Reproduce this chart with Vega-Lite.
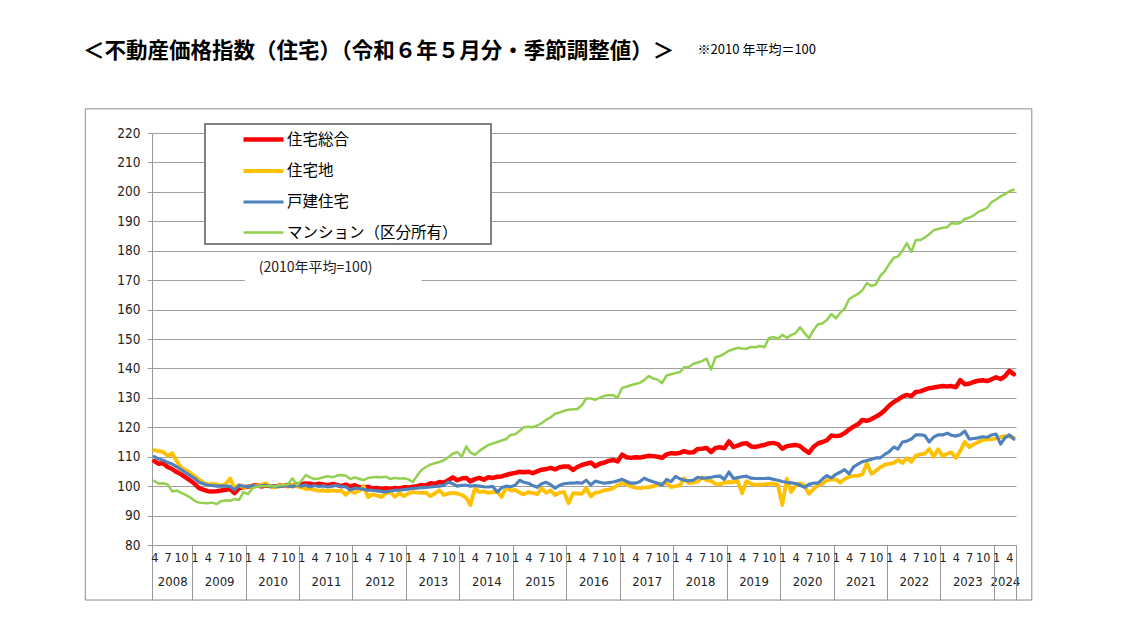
{
"$schema": "https://vega.github.io/schema/vega-lite/v6.json",
"width": 864, "height": 412,
"autosize": "none",
"padding": {"left": 152, "top": 133, "right": 121, "bottom": 90},
"background": "white",
"title": {"text": "＜不動産価格指数（住宅）（令和６年５月分・季節調整値）＞", "anchor": "start", "frame": "group", "dx": -69, "offset": -18, "fontSize": 21.5, "fontWeight": "bold", "font": "Noto Sans CJK JP", "color": "black"},
"config": {
  "view": {"stroke": null},
  "legend": {"strokeWidth": 2},
  "axis": {"labelFont": "Liberation Sans Narrow, DejaVu Sans Condensed, sans-serif", "labelColor": "#222222"},
  "axisY": {"values": [80, 90, 100, 110, 120, 130, 140, 150, 160, 170, 180, 190, 200, 210, 220], "grid": true, "gridColor": "#a0a0a0", "tickColor": "#a0a0a0", "tickSize": 5, "domainColor": "#999999", "labelPadding": 7, "labelFontSize": 13.5, "labelOverlap": false}
},
"resolve": {"scale": {"x": "shared", "y": "shared"}, "axis": {"x": "independent", "y": "shared"}},
"layer": [
  {
    "data": {"values": [{}]},
    "mark": {"type": "rect", "fill": "transparent", "stroke": "#8c8c8c", "strokeWidth": 1},
    "encoding": {
      "x": {"datum": {"year": 2006, "month": 12, "date": 16, "utc": true}, "type": "temporal",
        "axis": {"orient": "bottom", "values": [
          {"year": 2008, "month": 8, "date": 1, "utc": true},
          {"year": 2009, "month": 6, "date": 18, "utc": true},
          {"year": 2010, "month": 6, "date": 18, "utc": true},
          {"year": 2011, "month": 6, "date": 18, "utc": true},
          {"year": 2012, "month": 6, "date": 18, "utc": true},
          {"year": 2013, "month": 6, "date": 18, "utc": true},
          {"year": 2014, "month": 6, "date": 18, "utc": true},
          {"year": 2015, "month": 6, "date": 18, "utc": true},
          {"year": 2016, "month": 6, "date": 18, "utc": true},
          {"year": 2017, "month": 6, "date": 18, "utc": true},
          {"year": 2018, "month": 6, "date": 18, "utc": true},
          {"year": 2019, "month": 6, "date": 18, "utc": true},
          {"year": 2020, "month": 6, "date": 18, "utc": true},
          {"year": 2021, "month": 6, "date": 18, "utc": true},
          {"year": 2022, "month": 6, "date": 18, "utc": true},
          {"year": 2023, "month": 6, "date": 18, "utc": true},
          {"year": 2024, "month": 3, "date": 1, "utc": true}],
          "format": "%Y", "ticks": false, "domain": false, "grid": false, "labelPadding": 30, "labelFontSize": 13, "labelOverlap": false, "labelFlush": false, "title": null}},
      "x2": {"datum": {"year": 2024, "month": 9, "date": 1, "utc": true}},
      "y": {"datum": 61.3, "type": "quantitative", "title": null, "axis": {"values": [80, 90, 100, 110, 120, 130, 140, 150, 160, 170, 180, 190, 200, 210, 220], "labelOverlap": false, "title": null}},
      "y2": {"datum": 228.2}
    }
  },
  {
    "data": {"values": [{}]},
    "mark": {"type": "rect", "fill": "white"},
    "encoding": {
      "x": {"datum": {"year": 2009, "month": 12, "date": 11, "utc": true}, "type": "temporal",
        "axis": {"orient": "bottom", "values": [
          {"year": 2008, "month": 3, "date": 16, "utc": true},
          {"year": 2008, "month": 12, "date": 16, "utc": true},
          {"year": 2009, "month": 12, "date": 16, "utc": true},
          {"year": 2010, "month": 12, "date": 16, "utc": true},
          {"year": 2011, "month": 12, "date": 16, "utc": true},
          {"year": 2012, "month": 12, "date": 16, "utc": true},
          {"year": 2013, "month": 12, "date": 16, "utc": true},
          {"year": 2014, "month": 12, "date": 16, "utc": true},
          {"year": 2015, "month": 12, "date": 16, "utc": true},
          {"year": 2016, "month": 12, "date": 16, "utc": true},
          {"year": 2017, "month": 12, "date": 16, "utc": true},
          {"year": 2018, "month": 12, "date": 16, "utc": true},
          {"year": 2019, "month": 12, "date": 16, "utc": true},
          {"year": 2020, "month": 12, "date": 16, "utc": true},
          {"year": 2021, "month": 12, "date": 16, "utc": true},
          {"year": 2022, "month": 12, "date": 16, "utc": true},
          {"year": 2023, "month": 12, "date": 16, "utc": true},
          {"year": 2024, "month": 5, "date": 16, "utc": true}],
          "labels": false, "ticks": true, "tickSize": 55, "tickColor": "#999999", "domain": false, "grid": false, "title": null}},
      "x2": {"datum": {"year": 2013, "month": 4, "date": 1, "utc": true}},
      "y": {"datum": 168.3, "type": "quantitative", "title": null, "axis": {"values": [80, 90, 100, 110, 120, 130, 140, 150, 160, 170, 180, 190, 200, 210, 220], "labelOverlap": false, "title": null}},
      "y2": {"datum": 177.5}
    }
  },
  {
    "data": {"values": [{"label": "(2010年平均=100)"}]},
    "mark": {"type": "text", "align": "center", "baseline": "middle", "fontSize": 14, "font": "Noto Sans CJK JP", "color": "#222222"},
    "encoding": {
      "x": {"datum": {"year": 2011, "month": 4, "date": 8, "utc": true}, "type": "temporal", "axis": null},
      "y": {"datum": 174.1, "type": "quantitative", "title": null, "axis": {"values": [80, 90, 100, 110, 120, 130, 140, 150, 160, 170, 180, 190, 200, 210, 220], "labelOverlap": false, "title": null}},
      "text": {"field": "label"}
    }
  },
  {
    "data": {"values": [{"label": "※2010 年平均＝100"}]},
    "mark": {"type": "text", "align": "left", "baseline": "middle", "fontSize": 13, "font": "Noto Sans CJK JP", "color": "black"},
    "encoding": {
      "x": {"datum": {"year": 2018, "month": 6, "date": 1, "utc": true}, "type": "temporal", "axis": null},
      "y": {"datum": 248.2, "type": "quantitative", "title": null, "axis": {"values": [80, 90, 100, 110, 120, 130, 140, 150, 160, 170, 180, 190, 200, 210, 220], "labelOverlap": false, "title": null}},
      "text": {"field": "label"}
    }
  },
  {
    "data": {"values": [
{"d":"2008-04","a":108.5,"b":112.2,"c":110.0,"m":101.8},
{"d":"2008-05","a":107.6,"b":111.9,"c":109.2,"m":100.8},
{"d":"2008-06","a":107.8,"b":111.6,"c":108.8,"m":101.0},
{"d":"2008-07","a":106.5,"b":110.3,"c":108.0,"m":100.6},
{"d":"2008-08","a":105.8,"b":111.2,"c":107.5,"m":98.2},
{"d":"2008-09","a":104.8,"b":108.5,"c":106.6,"m":98.5},
{"d":"2008-10","a":104.0,"b":106.3,"c":105.6,"m":97.7},
{"d":"2008-11","a":103.0,"b":105.5,"c":104.6,"m":97.0},
{"d":"2008-12","a":102.0,"b":104.6,"c":103.6,"m":96.2},
{"d":"2009-01","a":100.8,"b":103.3,"c":102.6,"m":95.0},
{"d":"2009-02","a":99.3,"b":102.2,"c":101.3,"m":94.4},
{"d":"2009-03","a":98.8,"b":101.2,"c":100.8,"m":94.3},
{"d":"2009-04","a":98.3,"b":100.5,"c":100.4,"m":94.2},
{"d":"2009-05","a":98.2,"b":100.8,"c":100.2,"m":94.4},
{"d":"2009-06","a":98.3,"b":100.6,"c":100.0,"m":93.9},
{"d":"2009-07","a":98.5,"b":100.1,"c":100.1,"m":94.9},
{"d":"2009-08","a":98.8,"b":100.8,"c":100.0,"m":95.2},
{"d":"2009-09","a":99.0,"b":102.6,"c":99.9,"m":95.0},
{"d":"2009-10","a":97.6,"b":99.3,"c":98.7,"m":95.6},
{"d":"2009-11","a":99.3,"b":100.4,"c":100.3,"m":95.3},
{"d":"2009-12","a":99.6,"b":99.5,"c":100.0,"m":98.0},
{"d":"2010-01","a":99.8,"b":100.0,"c":99.8,"m":97.3},
{"d":"2010-02","a":100.1,"b":99.8,"c":100.2,"m":99.3},
{"d":"2010-03","a":100.3,"b":100.2,"c":99.9,"m":99.8},
{"d":"2010-04","a":99.9,"b":100.4,"c":100.1,"m":100.0},
{"d":"2010-05","a":100.2,"b":101.0,"c":100.4,"m":100.0},
{"d":"2010-06","a":100.0,"b":100.0,"c":99.9,"m":100.1},
{"d":"2010-07","a":99.8,"b":99.6,"c":100.1,"m":99.9},
{"d":"2010-08","a":100.2,"b":100.2,"c":99.8,"m":100.2},
{"d":"2010-09","a":100.1,"b":100.3,"c":100.2,"m":100.4},
{"d":"2010-10","a":100.4,"b":99.8,"c":100.0,"m":100.6},
{"d":"2010-11","a":100.0,"b":100.4,"c":99.9,"m":102.7},
{"d":"2010-12","a":100.6,"b":99.9,"c":100.3,"m":100.4},
{"d":"2011-01","a":100.7,"b":99.6,"c":100.0,"m":101.8},
{"d":"2011-02","a":100.9,"b":99.0,"c":100.4,"m":103.8},
{"d":"2011-03","a":100.8,"b":99.2,"c":99.7,"m":103.0},
{"d":"2011-04","a":100.5,"b":98.7,"c":100.2,"m":102.4},
{"d":"2011-05","a":100.8,"b":98.4,"c":99.9,"m":102.6},
{"d":"2011-06","a":100.6,"b":98.6,"c":100.1,"m":103.0},
{"d":"2011-07","a":100.3,"b":98.3,"c":99.7,"m":103.4},
{"d":"2011-08","a":100.7,"b":98.6,"c":100.0,"m":103.0},
{"d":"2011-09","a":100.4,"b":98.3,"c":100.3,"m":103.6},
{"d":"2011-10","a":100.0,"b":98.5,"c":99.8,"m":103.8},
{"d":"2011-11","a":100.5,"b":97.0,"c":99.8,"m":103.5},
{"d":"2011-12","a":99.9,"b":98.6,"c":98.7,"m":102.4},
{"d":"2012-01","a":100.3,"b":97.7,"c":99.3,"m":103.0},
{"d":"2012-02","a":99.7,"b":98.4,"c":99.2,"m":102.5},
{"d":"2012-03","a":99.5,"b":100.0,"c":98.9,"m":102.0},
{"d":"2012-04","a":99.8,"b":96.3,"c":98.6,"m":102.8},
{"d":"2012-05","a":99.2,"b":97.2,"c":98.6,"m":103.0},
{"d":"2012-06","a":99.4,"b":96.8,"c":98.4,"m":103.1},
{"d":"2012-07","a":99.0,"b":96.3,"c":98.2,"m":103.0},
{"d":"2012-08","a":99.3,"b":97.6,"c":98.0,"m":103.2},
{"d":"2012-09","a":99.0,"b":98.0,"c":98.4,"m":102.4},
{"d":"2012-10","a":99.4,"b":96.4,"c":98.6,"m":102.8},
{"d":"2012-11","a":99.2,"b":97.6,"c":98.6,"m":102.6},
{"d":"2012-12","a":99.6,"b":96.6,"c":98.8,"m":102.7},
{"d":"2013-01","a":99.5,"b":97.5,"c":99.0,"m":102.3},
{"d":"2013-02","a":99.8,"b":98.0,"c":99.2,"m":101.4},
{"d":"2013-03","a":100.0,"b":97.8,"c":99.3,"m":103.5},
{"d":"2013-04","a":100.4,"b":97.7,"c":99.5,"m":105.5},
{"d":"2013-05","a":100.2,"b":97.8,"c":99.6,"m":106.5},
{"d":"2013-06","a":101.0,"b":96.6,"c":99.7,"m":107.3},
{"d":"2013-07","a":100.8,"b":97.5,"c":99.9,"m":107.8},
{"d":"2013-08","a":101.4,"b":98.6,"c":100.0,"m":108.2},
{"d":"2013-09","a":101.2,"b":97.0,"c":100.3,"m":108.8},
{"d":"2013-10","a":102.0,"b":97.5,"c":101.4,"m":109.8},
{"d":"2013-11","a":103.0,"b":97.7,"c":100.8,"m":111.0},
{"d":"2013-12","a":102.0,"b":97.5,"c":100.0,"m":111.6},
{"d":"2014-01","a":102.6,"b":97.0,"c":100.3,"m":110.0},
{"d":"2014-02","a":102.8,"b":96.0,"c":100.3,"m":113.5},
{"d":"2014-03","a":101.6,"b":93.6,"c":100.0,"m":111.5},
{"d":"2014-04","a":102.4,"b":99.3,"c":100.2,"m":110.6},
{"d":"2014-05","a":102.8,"b":98.0,"c":100.0,"m":112.0},
{"d":"2014-06","a":102.2,"b":98.2,"c":99.8,"m":113.0},
{"d":"2014-07","a":103.0,"b":97.7,"c":99.7,"m":114.0},
{"d":"2014-08","a":102.8,"b":98.0,"c":99.9,"m":114.5},
{"d":"2014-09","a":103.2,"b":98.1,"c":98.0,"m":115.0},
{"d":"2014-10","a":103.3,"b":96.3,"c":99.5,"m":115.5},
{"d":"2014-11","a":103.8,"b":99.7,"c":100.0,"m":116.0},
{"d":"2014-12","a":104.2,"b":98.5,"c":99.8,"m":117.4},
{"d":"2015-01","a":104.5,"b":98.7,"c":100.3,"m":117.6},
{"d":"2015-02","a":104.9,"b":97.8,"c":102.0,"m":118.8},
{"d":"2015-03","a":104.7,"b":97.2,"c":101.3,"m":120.0},
{"d":"2015-04","a":104.9,"b":98.0,"c":101.0,"m":120.2},
{"d":"2015-05","a":104.4,"b":97.6,"c":100.2,"m":120.0},
{"d":"2015-06","a":105.0,"b":97.3,"c":99.6,"m":120.6},
{"d":"2015-07","a":105.6,"b":99.3,"c":100.8,"m":121.4},
{"d":"2015-08","a":105.8,"b":97.7,"c":101.3,"m":122.6},
{"d":"2015-09","a":106.2,"b":98.5,"c":100.5,"m":123.4},
{"d":"2015-10","a":105.7,"b":97.0,"c":99.3,"m":124.6},
{"d":"2015-11","a":106.4,"b":97.8,"c":100.3,"m":125.0},
{"d":"2015-12","a":106.7,"b":98.0,"c":100.8,"m":125.6},
{"d":"2016-01","a":106.7,"b":94.2,"c":101.0,"m":126.0},
{"d":"2016-02","a":105.5,"b":97.6,"c":101.0,"m":126.1},
{"d":"2016-03","a":106.5,"b":97.5,"c":101.2,"m":126.2},
{"d":"2016-04","a":107.2,"b":97.4,"c":101.0,"m":127.5},
{"d":"2016-05","a":107.6,"b":99.3,"c":102.0,"m":129.8},
{"d":"2016-06","a":108.0,"b":96.5,"c":100.4,"m":129.8},
{"d":"2016-07","a":106.8,"b":97.8,"c":101.7,"m":129.3},
{"d":"2016-08","a":107.6,"b":98.0,"c":101.3,"m":130.1},
{"d":"2016-09","a":108.0,"b":98.6,"c":101.0,"m":130.7},
{"d":"2016-10","a":108.6,"b":98.8,"c":101.2,"m":130.9},
{"d":"2016-11","a":108.9,"b":99.3,"c":101.4,"m":131.0},
{"d":"2016-12","a":108.4,"b":100.3,"c":101.8,"m":130.0},
{"d":"2017-01","a":110.7,"b":101.0,"c":102.3,"m":133.4},
{"d":"2017-02","a":109.8,"b":100.5,"c":101.6,"m":133.8},
{"d":"2017-03","a":109.6,"b":100.0,"c":101.0,"m":134.3},
{"d":"2017-04","a":109.8,"b":99.5,"c":101.0,"m":134.7},
{"d":"2017-05","a":109.7,"b":99.3,"c":101.5,"m":135.1},
{"d":"2017-06","a":110.0,"b":99.6,"c":102.7,"m":136.0},
{"d":"2017-07","a":110.3,"b":99.6,"c":102.0,"m":137.4},
{"d":"2017-08","a":110.2,"b":100.0,"c":101.5,"m":136.6},
{"d":"2017-09","a":110.0,"b":100.4,"c":101.0,"m":136.2},
{"d":"2017-10","a":109.6,"b":100.8,"c":100.4,"m":135.0},
{"d":"2017-11","a":110.8,"b":101.0,"c":102.3,"m":137.6},
{"d":"2017-12","a":111.2,"b":99.7,"c":101.5,"m":138.0},
{"d":"2018-01","a":111.1,"b":100.0,"c":103.3,"m":138.4},
{"d":"2018-02","a":111.3,"b":100.3,"c":102.5,"m":138.8},
{"d":"2018-03","a":111.9,"b":102.7,"c":102.0,"m":140.4},
{"d":"2018-04","a":111.4,"b":101.0,"c":101.8,"m":140.5},
{"d":"2018-05","a":111.5,"b":101.2,"c":102.0,"m":141.5},
{"d":"2018-06","a":112.6,"b":101.5,"c":103.0,"m":142.0},
{"d":"2018-07","a":112.7,"b":103.0,"c":102.7,"m":142.5},
{"d":"2018-08","a":113.0,"b":102.0,"c":102.8,"m":143.3},
{"d":"2018-09","a":111.6,"b":101.8,"c":103.0,"m":139.6},
{"d":"2018-10","a":113.0,"b":100.8,"c":103.3,"m":143.8},
{"d":"2018-11","a":113.2,"b":100.6,"c":103.4,"m":144.2},
{"d":"2018-12","a":112.9,"b":101.2,"c":102.3,"m":145.0},
{"d":"2019-01","a":115.2,"b":101.4,"c":104.8,"m":146.0},
{"d":"2019-02","a":113.3,"b":101.3,"c":102.6,"m":146.5},
{"d":"2019-03","a":113.8,"b":101.8,"c":102.9,"m":147.0},
{"d":"2019-04","a":114.4,"b":97.6,"c":103.2,"m":146.8},
{"d":"2019-05","a":114.6,"b":101.7,"c":103.4,"m":146.7},
{"d":"2019-06","a":113.5,"b":100.8,"c":102.7,"m":147.3},
{"d":"2019-07","a":113.3,"b":100.4,"c":102.6,"m":147.2},
{"d":"2019-08","a":113.7,"b":100.5,"c":102.6,"m":147.6},
{"d":"2019-09","a":114.0,"b":100.6,"c":102.6,"m":147.2},
{"d":"2019-10","a":114.5,"b":100.8,"c":102.7,"m":150.3},
{"d":"2019-11","a":114.7,"b":100.8,"c":102.3,"m":150.7},
{"d":"2019-12","a":114.3,"b":100.5,"c":102.0,"m":150.0},
{"d":"2020-01","a":112.7,"b":93.6,"c":101.6,"m":151.4},
{"d":"2020-02","a":113.6,"b":102.5,"c":101.3,"m":150.4},
{"d":"2020-03","a":113.8,"b":98.0,"c":101.1,"m":151.3},
{"d":"2020-04","a":114.0,"b":100.2,"c":100.9,"m":152.0},
{"d":"2020-05","a":113.6,"b":101.0,"c":100.3,"m":154.0},
{"d":"2020-06","a":112.3,"b":100.2,"c":99.6,"m":152.0},
{"d":"2020-07","a":111.3,"b":97.4,"c":100.6,"m":150.3},
{"d":"2020-08","a":113.4,"b":99.0,"c":101.0,"m":153.0},
{"d":"2020-09","a":114.5,"b":100.3,"c":101.0,"m":155.0},
{"d":"2020-10","a":115.0,"b":100.8,"c":102.4,"m":155.3},
{"d":"2020-11","a":115.6,"b":102.0,"c":103.6,"m":156.5},
{"d":"2020-12","a":117.2,"b":102.2,"c":102.8,"m":158.5},
{"d":"2021-01","a":117.0,"b":102.3,"c":104.0,"m":157.0},
{"d":"2021-02","a":117.2,"b":101.2,"c":104.8,"m":159.0},
{"d":"2021-03","a":118.0,"b":102.4,"c":105.6,"m":160.3},
{"d":"2021-04","a":119.2,"b":103.2,"c":104.2,"m":163.5},
{"d":"2021-05","a":120.2,"b":103.5,"c":106.5,"m":164.5},
{"d":"2021-06","a":121.0,"b":103.6,"c":107.5,"m":165.3},
{"d":"2021-07","a":122.5,"b":104.0,"c":108.3,"m":166.6},
{"d":"2021-08","a":122.2,"b":107.8,"c":108.7,"m":169.0},
{"d":"2021-09","a":122.8,"b":104.2,"c":109.1,"m":168.0},
{"d":"2021-10","a":123.6,"b":105.2,"c":109.6,"m":168.5},
{"d":"2021-11","a":124.5,"b":106.4,"c":109.6,"m":171.5},
{"d":"2021-12","a":125.8,"b":107.3,"c":110.8,"m":173.0},
{"d":"2022-01","a":127.4,"b":107.6,"c":111.7,"m":175.5},
{"d":"2022-02","a":128.6,"b":107.9,"c":113.3,"m":177.6},
{"d":"2022-03","a":129.4,"b":108.9,"c":112.6,"m":178.0},
{"d":"2022-04","a":130.4,"b":107.9,"c":115.0,"m":180.0},
{"d":"2022-05","a":131.0,"b":109.5,"c":115.3,"m":182.6},
{"d":"2022-06","a":130.6,"b":108.3,"c":116.0,"m":179.6},
{"d":"2022-07","a":132.0,"b":110.4,"c":117.4,"m":183.6},
{"d":"2022-08","a":132.2,"b":110.8,"c":117.4,"m":183.6},
{"d":"2022-09","a":132.8,"b":111.0,"c":117.2,"m":184.5},
{"d":"2022-10","a":133.3,"b":112.6,"c":115.0,"m":185.6},
{"d":"2022-11","a":133.5,"b":110.0,"c":116.7,"m":187.0},
{"d":"2022-12","a":133.8,"b":112.5,"c":117.4,"m":187.4},
{"d":"2023-01","a":134.0,"b":110.2,"c":117.4,"m":187.8},
{"d":"2023-02","a":133.9,"b":111.0,"c":118.0,"m":188.0},
{"d":"2023-03","a":134.0,"b":111.5,"c":117.3,"m":189.4},
{"d":"2023-04","a":133.6,"b":109.6,"c":117.0,"m":189.2},
{"d":"2023-05","a":136.0,"b":112.0,"c":117.5,"m":189.4},
{"d":"2023-06","a":134.6,"b":115.0,"c":118.7,"m":190.8},
{"d":"2023-07","a":134.8,"b":113.3,"c":116.0,"m":191.2},
{"d":"2023-08","a":135.4,"b":114.2,"c":116.2,"m":192.0},
{"d":"2023-09","a":135.8,"b":115.0,"c":116.4,"m":193.2},
{"d":"2023-10","a":136.0,"b":115.6,"c":116.8,"m":193.8},
{"d":"2023-11","a":135.7,"b":115.9,"c":116.6,"m":194.6},
{"d":"2023-12","a":136.3,"b":115.9,"c":117.4,"m":196.5},
{"d":"2024-01","a":137.0,"b":116.2,"c":117.7,"m":197.4},
{"d":"2024-02","a":136.4,"b":116.7,"c":114.3,"m":198.5},
{"d":"2024-03","a":137.3,"b":116.9,"c":116.4,"m":199.2},
{"d":"2024-04","a":139.2,"b":117.0,"c":117.4,"m":200.2},
{"d":"2024-05","a":138.0,"b":116.4,"c":116.0,"m":200.7}
    ]},
    "transform": [{"fold": ["a", "b", "c", "m"], "as": ["series", "value"]}],
    "mark": {"type": "line", "strokeJoin": "round", "strokeCap": "round"},
    "encoding": {
      "x": {"field": "d", "type": "temporal", "title": null,
        "scale": {"type": "utc", "domain": [{"year": 2008, "month": 3, "date": 16, "utc": true}, {"year": 2024, "month": 5, "date": 16, "utc": true}]},
        "axis": {"orient": "bottom", "tickCount": {"interval": "month", "step": 3}, "format": "%-m", "ticks": false, "labelPadding": 6, "domain": true, "domainColor": "#999999", "grid": false, "labelOverlap": false, "labelFlush": false, "labelFontSize": 12.5, "title": null}},
      "y": {"field": "value", "type": "quantitative", "title": null,
        "scale": {"domain": [80, 220], "nice": false, "zero": false},
        "axis": {"values": [80, 90, 100, 110, 120, 130, 140, 150, 160, 170, 180, 190, 200, 210, 220], "labelOverlap": false, "title": null}},
      "color": {"field": "series", "type": "nominal",
        "scale": {"domain": ["a", "b", "c", "m"], "range": ["#FF0000", "#FFC000", "#4F81BD", "#92D050"]},
        "legend": {"orient": "none", "legendX": 53, "legendY": -9, "title": " ", "titleOrient": "right", "titlePadding": 30, "titleFontSize": 10, "labelExpr": "{'a':'住宅総合','b':'住宅地','c':'戸建住宅','m':'マンション（区分所有）'}[datum.label]", "fillColor": "white", "strokeColor": "#7f7f7f", "padding": 3, "symbolType": "M-2,0H2", "symbolSize": 400, "symbolOffset": 43, "labelOffset": 11, "labelFontSize": 15.5, "labelFont": "Noto Sans CJK JP", "labelColor": "black", "rowPadding": 10, "labelLimit": 400}},
      "strokeWidth": {"field": "series", "type": "nominal",
        "scale": {"domain": ["a", "b", "c", "m"], "range": [4.5, 2.5, 2.5, 2.5]},
        "legend": {"orient": "none", "legendX": 53, "legendY": -9, "title": " ", "titleOrient": "right", "titlePadding": 30, "titleFontSize": 10, "labelExpr": "{'a':'住宅総合','b':'住宅地','c':'戸建住宅','m':'マンション（区分所有）'}[datum.label]", "fillColor": "white", "strokeColor": "#7f7f7f", "padding": 3, "symbolType": "M-2,0H2", "symbolSize": 400, "symbolOffset": 43, "labelOffset": 11, "labelFontSize": 15.5, "labelFont": "Noto Sans CJK JP", "labelColor": "black", "rowPadding": 10, "labelLimit": 400}}
    }
  }
]
}
